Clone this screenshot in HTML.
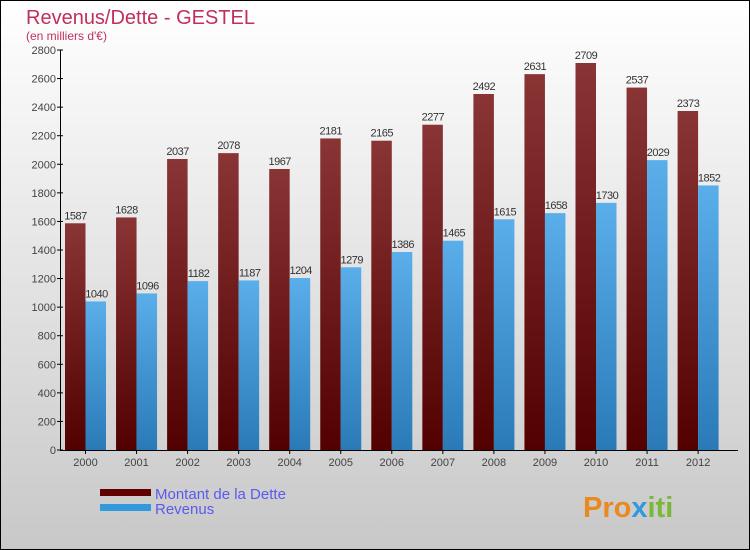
<!DOCTYPE html>
<html><head><meta charset="utf-8"><style>
body{margin:0}
#c{width:750px;height:550px;position:relative;overflow:hidden}
text{font-family:"Liberation Sans",sans-serif}
</style></head><body>
<div id="c">
<svg id="s" width="750" height="550" xmlns="http://www.w3.org/2000/svg">
<defs>
<linearGradient id="bg" x1="0" y1="0" x2="0" y2="1"><stop offset="0" stop-color="#ffffff"/><stop offset="1" stop-color="#c8c8c8"/></linearGradient>
<linearGradient id="gd" x1="0" y1="0" x2="0" y2="1"><stop offset="0" stop-color="#8a3535"/><stop offset="1" stop-color="#520000"/></linearGradient>
<linearGradient id="gr" x1="0" y1="0" x2="0" y2="1"><stop offset="0" stop-color="#5aaeea"/><stop offset="1" stop-color="#2a7ab8"/></linearGradient>
</defs>
<rect x="0.5" y="0.5" width="749" height="549" fill="url(#bg)" stroke="#000"/>
<text x="26" y="24" font-size="20" fill="#c0305a">Revenus/Dette - GESTEL</text>
<text x="26" y="40" font-size="12" fill="#c0305a">(en milliers d'€)</text>
<g id="bars"></g>
<g id="axes"></g>
<rect x="100" y="489" width="51" height="7" fill="#600000"/>
<text x="155" y="499" font-size="15" fill="#5a5aee">Montant de la Dette</text>
<rect x="100" y="504" width="51" height="7" fill="#3399dd"/>
<text x="155" y="514" font-size="15" fill="#5a5aee">Revenus</text>
<text x="583" y="517" font-size="29" font-weight="bold" fill="#e98a20">Pro<tspan fill="#3399dd">x</tspan><tspan fill="#7ab83a">iti</tspan></text>
</svg>
</div>
<script>
const years=["2000","2001","2002","2003","2004","2005","2006","2007","2008","2009","2010","2011","2012"];
const dette=[1587,1628,2037,2078,1967,2181,2165,2277,2492,2631,2709,2537,2373];
const revenus=[1040,1096,1182,1187,1204,1279,1386,1465,1615,1658,1730,2029,1852];
const yTicks=[0,200,400,600,800,1000,1200,1400,1600,1800,2000,2200,2400,2600,2800];
const NS="http://www.w3.org/2000/svg";
const y0=450,yMax=2800,ph=400;
const yS=v=>y0-v/yMax*ph;
const xC=i=>85.5+i*51.05;
function mk(t,a,p){const e=document.createElementNS(NS,t);for(const k in a)e.setAttribute(k,a[k]);p.appendChild(e);return e;}
const bars=document.getElementById('bars'),axes=document.getElementById('axes');
years.forEach((yr,i)=>{
 const c=xC(i);
 let r=mk('rect',{x:c-20.5,y:yS(dette[i]),width:20.5,height:y0-yS(dette[i]),fill:'url(#gd)'},bars);
 
 
 let r2=mk('rect',{x:c,y:yS(revenus[i]),width:20.5,height:y0-yS(revenus[i]),fill:'url(#gr)'},bars);
 
 
 let t=mk('text',{x:c-10,y:yS(dette[i])-4,'font-size':11,fill:'#333','text-anchor':'middle','letter-spacing':'-0.5'},bars);
 t.textContent=dette[i];
 
 
 let t2=mk('text',{x:c+11,y:yS(revenus[i])-4,'font-size':11,fill:'#333','text-anchor':'middle','letter-spacing':'-0.5'},bars);
 t2.textContent=revenus[i];
 
 
 let tk=mk('line',{x1:c,x2:c,y1:y0,y2:y0+4,stroke:'#000'},axes);
 
 
 let xl=mk('text',{x:c,y:y0+16,'font-size':11,fill:'#444','text-anchor':'middle'},axes);
 xl.textContent=yr;
 
 
});
yTicks.forEach(v=>{
 let l=mk('line',{x1:57,x2:63,y1:yS(v),y2:yS(v),stroke:'#000'},axes);
 
 
 let t=mk('text',{x:56,y:yS(v)+4,'font-size':11,fill:'#444','text-anchor':'end'},axes);
 t.textContent=v;
 
 
});
let ya=mk('line',{x1:60.5,x2:60.5,y1:50,y2:y0,stroke:'#000'},axes);


let xa=mk('line',{x1:60,x2:738,y1:y0+0.5,y2:y0+0.5,stroke:'#000'},axes);


</script>
</body></html>
